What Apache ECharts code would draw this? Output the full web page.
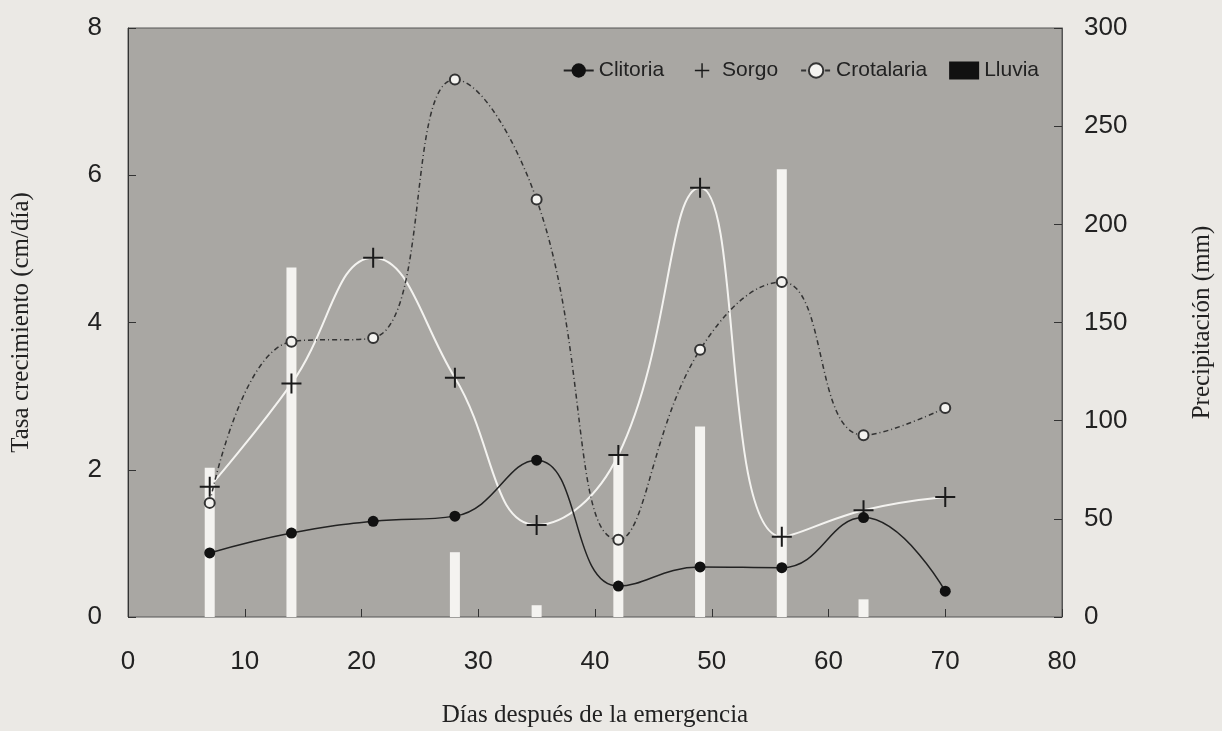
<!DOCTYPE html>
<html>
<head>
<meta charset="utf-8">
<script src="https://cdn.jsdelivr.net/npm/echarts@6/dist/echarts.min.js"></script>
<style>
html,body{margin:0;padding:0;background:#ebe9e5;}
#chart{width:1222px;height:731px;}
</style>
</head>
<body>
<div id="chart"></div>
<script>
// ---- data ----
const days = [7, 14, 21, 28, 35, 42, 49, 56, 63, 70];
const clitoria = [0.87, 1.14, 1.30, 1.37, 2.13, 0.42, 0.68, 0.67, 1.35, 0.35];
const sorgo = [1.77, 3.17, 4.88, 3.25, 1.25, 2.20, 5.83, 1.09, 1.45, 1.63];
const crotalaria = [1.55, 3.74, 3.79, 7.30, 5.67, 1.05, 3.63, 4.55, 2.47, 2.84];
const lluviaDays = [7, 14, 28, 35, 42, 49, 56, 63];
const lluvia = [76, 178, 33, 6, 82, 97, 228, 9];
const xTicks = [0, 10, 20, 30, 40, 50, 60, 70, 80];
const yLeftTicks = [0, 2, 4, 6, 8];
const yRightTicks = [0, 50, 100, 150, 200, 250, 300];

const pair = (xs, ys) => xs.map((x, i) => [x, ys[i]]);
const plusPath = 'path://M-1,-10 h2 v9 h9 v2 h-9 v9 h-2 v-9 h-9 v-2 h9 z';

const chart = echarts.init(document.getElementById('chart'), null, {renderer: 'canvas'});
const sans = 'Liberation Sans, Arial, sans-serif';
const serif = 'Liberation Serif, Times New Roman, serif';

chart.setOption({
  backgroundColor: '#ebe9e5',
  animation: false,
  grid: {
    left: 128, right: 160, top: 28, bottom: 114,
    outerBoundsMode: 'none', containLabel: false,
    show: true, backgroundColor: '#a9a7a3', borderColor: '#555', borderWidth: 1
  },
  legend: {
    top: 55, right: 178, itemGap: 22, itemWidth: 30, itemHeight: 18,
    textStyle: {fontFamily: sans, fontSize: 21, color: '#222'},
    data: [
      {name: 'Clitoria'},
      {name: 'Sorgo', lineStyle: {opacity: 0}},
      {name: 'Crotalaria'},
      {name: 'Lluvia', icon: 'rect', itemStyle: {color: '#111'}}
    ]
  },
  xAxis: {
    type: 'value', min: 0, max: 80, interval: 10,
    name: 'Días después de la emergencia', nameLocation: 'middle', nameGap: 86,
    nameTextStyle: {fontFamily: serif, fontSize: 25, color: '#222'},
    axisLine: {show: false},
    axisTick: {show: true, inside: true, length: 8, lineStyle: {color: '#333'}},
    splitLine: {show: false},
    axisLabel: {fontFamily: sans, fontSize: 26, color: '#222', margin: 32,
      formatter: v => xTicks.includes(v) ? String(v) : ''}
  },
  yAxis: [
    {
      type: 'value', min: 0, max: 8, interval: 2, position: 'left',
      name: 'Tasa crecimiento (cm/día)', nameLocation: 'middle', nameGap: 94, nameRotate: 90,
      nameTextStyle: {fontFamily: serif, fontSize: 25, color: '#222'},
      axisLine: {show: true, lineStyle: {color: '#333'}},
      axisTick: {show: true, inside: true, length: 8, lineStyle: {color: '#333'}},
      splitLine: {show: false},
      axisLabel: {fontFamily: sans, fontSize: 26, color: '#222', margin: 26,
        formatter: v => yLeftTicks.includes(v) ? String(v) : ''}
    },
    {
      type: 'value', min: 0, max: 300, interval: 50, position: 'right',
      name: 'Precipitación (mm)', nameLocation: 'middle', nameGap: 128, nameRotate: 90,
      nameTextStyle: {fontFamily: serif, fontSize: 25, color: '#222'},
      axisLine: {show: true, lineStyle: {color: '#555'}},
      axisTick: {show: true, inside: true, length: 8, lineStyle: {color: '#333'}},
      splitLine: {show: false},
      axisLabel: {fontFamily: sans, fontSize: 26, color: '#222', margin: 22,
        formatter: v => yRightTicks.includes(v) ? String(v) : ''}
    }
  ],
  series: [
    {
      name: 'Lluvia', type: 'bar', yAxisIndex: 1, barWidth: 10,
      itemStyle: {color: '#f4f3f0'},
      data: pair(lluviaDays, lluvia), z: 1
    },
    {
      name: 'Sorgo', type: 'line', smooth: 0.45,
      data: pair(days, sorgo),
      symbol: plusPath, symbolSize: 20,
      itemStyle: {color: '#1a1a1a'},
      lineStyle: {color: '#f4f3f0', width: 2}, z: 3
    },
    {
      name: 'Crotalaria', type: 'line', smooth: 0.45,
      data: pair(days, crotalaria),
      symbol: 'circle', symbolSize: 10,
      itemStyle: {color: '#f4f3f0', borderColor: '#333', borderWidth: 2},
      lineStyle: {color: '#333', width: 1.5, type: [5, 3, 1, 3]}, z: 4
    },
    {
      name: 'Clitoria', type: 'line', smooth: 0.45,
      data: pair(days, clitoria),
      symbol: 'circle', symbolSize: 11,
      itemStyle: {color: '#111'},
      lineStyle: {color: '#222', width: 1.5}, z: 5
    }
  ]
});
</script>
</body>
</html>
